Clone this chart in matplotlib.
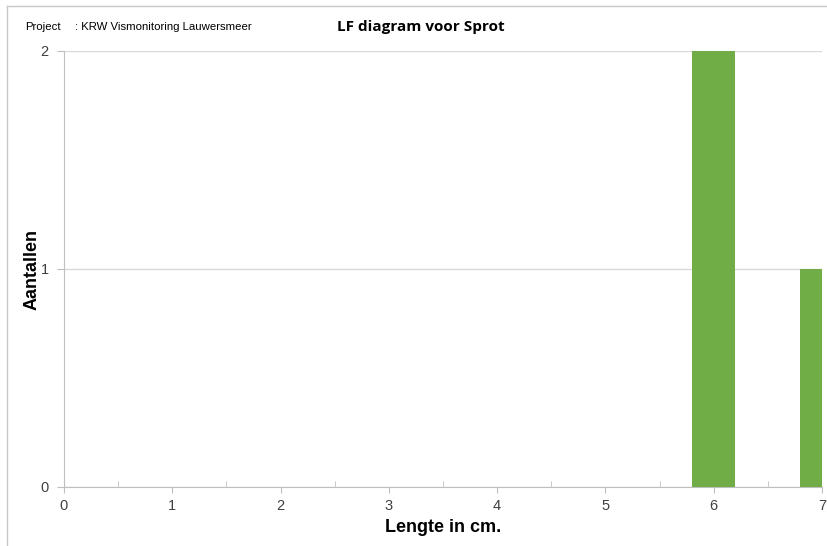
import matplotlib
matplotlib.use('Agg')
import matplotlib.pyplot as plt
from matplotlib.lines import Line2D
from matplotlib.ticker import MultipleLocator

# lengteklassen en aantallen
lengths = [6, 7]
counts = [2, 1]
x_ticks = [0, 1, 2, 3, 4, 5, 6, 7]
y_ticks = [0, 1, 2]

title = 'LF diagram voor Sprot'
project_label = 'Project'
project_name = ': KRW Vismonitoring Lauwersmeer'

plt.rcParams['font.family'] = ['Liberation Sans', 'DejaVu Sans']

fig = plt.figure(figsize=(8.28, 5.46), dpi=100)
ax = fig.add_axes([64 / 828, 1 - 487 / 546, (822 - 64) / 828, (487 - 51) / 546])

ax.bar(lengths, counts, width=0.4, color='#70AD47', zorder=3, clip_on=True)

ax.set_xlim(0, 7)
ax.set_ylim(0, 2)
ax.set_xticks(x_ticks)
ax.set_yticks(y_ticks)
ax.xaxis.set_minor_locator(MultipleLocator(0.5))
ax.yaxis.grid(True, color='#D9D9D9', lw=1)
ax.set_axisbelow(True)

for s in ['top', 'right']:
    ax.spines[s].set_visible(False)
for s in ['left', 'bottom']:
    ax.spines[s].set_color('#BFBFBF')

ax.tick_params(axis='x', which='major', direction='out', length=4, color='#BFBFBF',
               labelsize=10.5, labelcolor='#404040', pad=5)
ax.tick_params(axis='x', which='minor', direction='in', length=4, color='#BFBFBF')
ax.tick_params(axis='y', direction='out', length=5, color='#BFBFBF',
               labelsize=10.5, labelcolor='#404040', pad=6)

ax.set_xlabel('Lengte in cm.', fontsize=13, fontweight='bold', labelpad=4)
ax.set_ylabel('Aantallen', fontsize=13, fontweight='bold')
ax.yaxis.set_label_coords((41 - 64) / 758, 0.5)

fig.text(25 / 828, 1 - 27 / 546, project_label, fontsize=8.2, va='center', ha='left')
fig.text(75 / 828, 1 - 27 / 546, project_name, fontsize=8.2, va='center', ha='left')
fig.text(421 / 828, 1 - 27 / 546, title, fontsize=11, fontweight='bold',
         va='center', ha='center', family=['Open Sans', 'DejaVu Sans'])

# kader
fig.add_artist(Line2D([7 / 828, 7 / 828], [0, 1 - 6 / 546], color='#C8C8C8', lw=1))
fig.add_artist(Line2D([7 / 828, 1], [1 - 6 / 546, 1 - 6 / 546], color='#C8C8C8', lw=1))

fig.savefig('out.png', dpi=100)
